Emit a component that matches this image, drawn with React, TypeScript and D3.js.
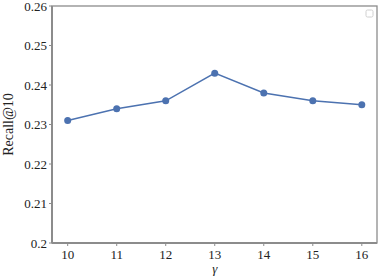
import React from "react";
import * as d3 from "d3";

const gammas = [10, 11, 12, 13, 14, 15, 16];
const recall = [0.231, 0.234, 0.236, 0.243, 0.238, 0.236, 0.235];
const yTicks = [0.2, 0.21, 0.22, 0.23, 0.24, 0.25, 0.26];
const yTickLabels = ["0.2", "0.21", "0.22", "0.23", "0.24", "0.25", "0.26"];

export default function App() {
  const W = 386, H = 278;
  const left = 52, right = 377, top = 6, bottom = 243;
  const x = d3.scaleLinear().domain([9.68, 16.31]).range([left, right]);
  const y = d3.scaleLinear().domain([0.2, 0.26]).range([bottom, top]);
  const line = d3.line<number>().x((_, i) => x(gammas[i])).y((d) => y(d));
  const font = "Liberation Serif";
  const axisColor = "#8c8c8c";
  const blue = "#4c72b0";
  const ts = { fontFamily: font };
  return (
    <svg width={W} height={H} style={{ position: "absolute", left: 0, top: 0, fontFamily: font }}>
      <rect x={0} y={0} width={W} height={H} fill="white" />
      <rect x={left} y={top} width={right - left} height={bottom - top} fill="none" stroke={axisColor} strokeWidth={1.3} />
      <line x1={left} x2={left} y1={top} y2={bottom} stroke={axisColor} strokeWidth={2} />
      <line x1={left} x2={right} y1={bottom} y2={bottom} stroke={axisColor} strokeWidth={2} />
      {yTicks.map((t, i) => (
        <g key={"y" + i}>
          <line x1={left - 3} x2={left} y1={y(t)} y2={y(t)} stroke={axisColor} strokeWidth={1} />
          <text x={left - 5} y={y(t)} dy="0.35em" textAnchor="end" fontSize={13} fill="#222" style={ts}>
            {yTickLabels[i]}
          </text>
        </g>
      ))}
      {gammas.map((g, i) => (
        <g key={"x" + i}>
          <line x1={x(g)} x2={x(g)} y1={bottom} y2={bottom + 3} stroke={axisColor} strokeWidth={1} />
          <text x={x(g)} y={bottom + 16} textAnchor="middle" fontSize={13} fill="#222" style={ts}>
            {g}
          </text>
        </g>
      ))}
      <text x={x(13)} y={273} textAnchor="middle" fontSize={13} fontStyle="italic" fill="#222" style={ts}>γ</text>
      <text transform={`translate(13,${(top + bottom) / 2}) rotate(-90)`} textAnchor="middle" fontSize={14} fill="#222" style={ts}>
        Recall@10
      </text>
      <path d={line(recall) || ""} fill="none" stroke={blue} strokeWidth={1.5} />
      {recall.map((v, i) => (
        <circle key={"p" + i} cx={x(gammas[i])} cy={y(v)} r={3.5} fill={blue} />
      ))}
      <rect x={366} y={10} width={7} height={7} rx={1.5} fill="white" stroke="#d0d0d0" strokeWidth={1} />
    </svg>
  );
}
